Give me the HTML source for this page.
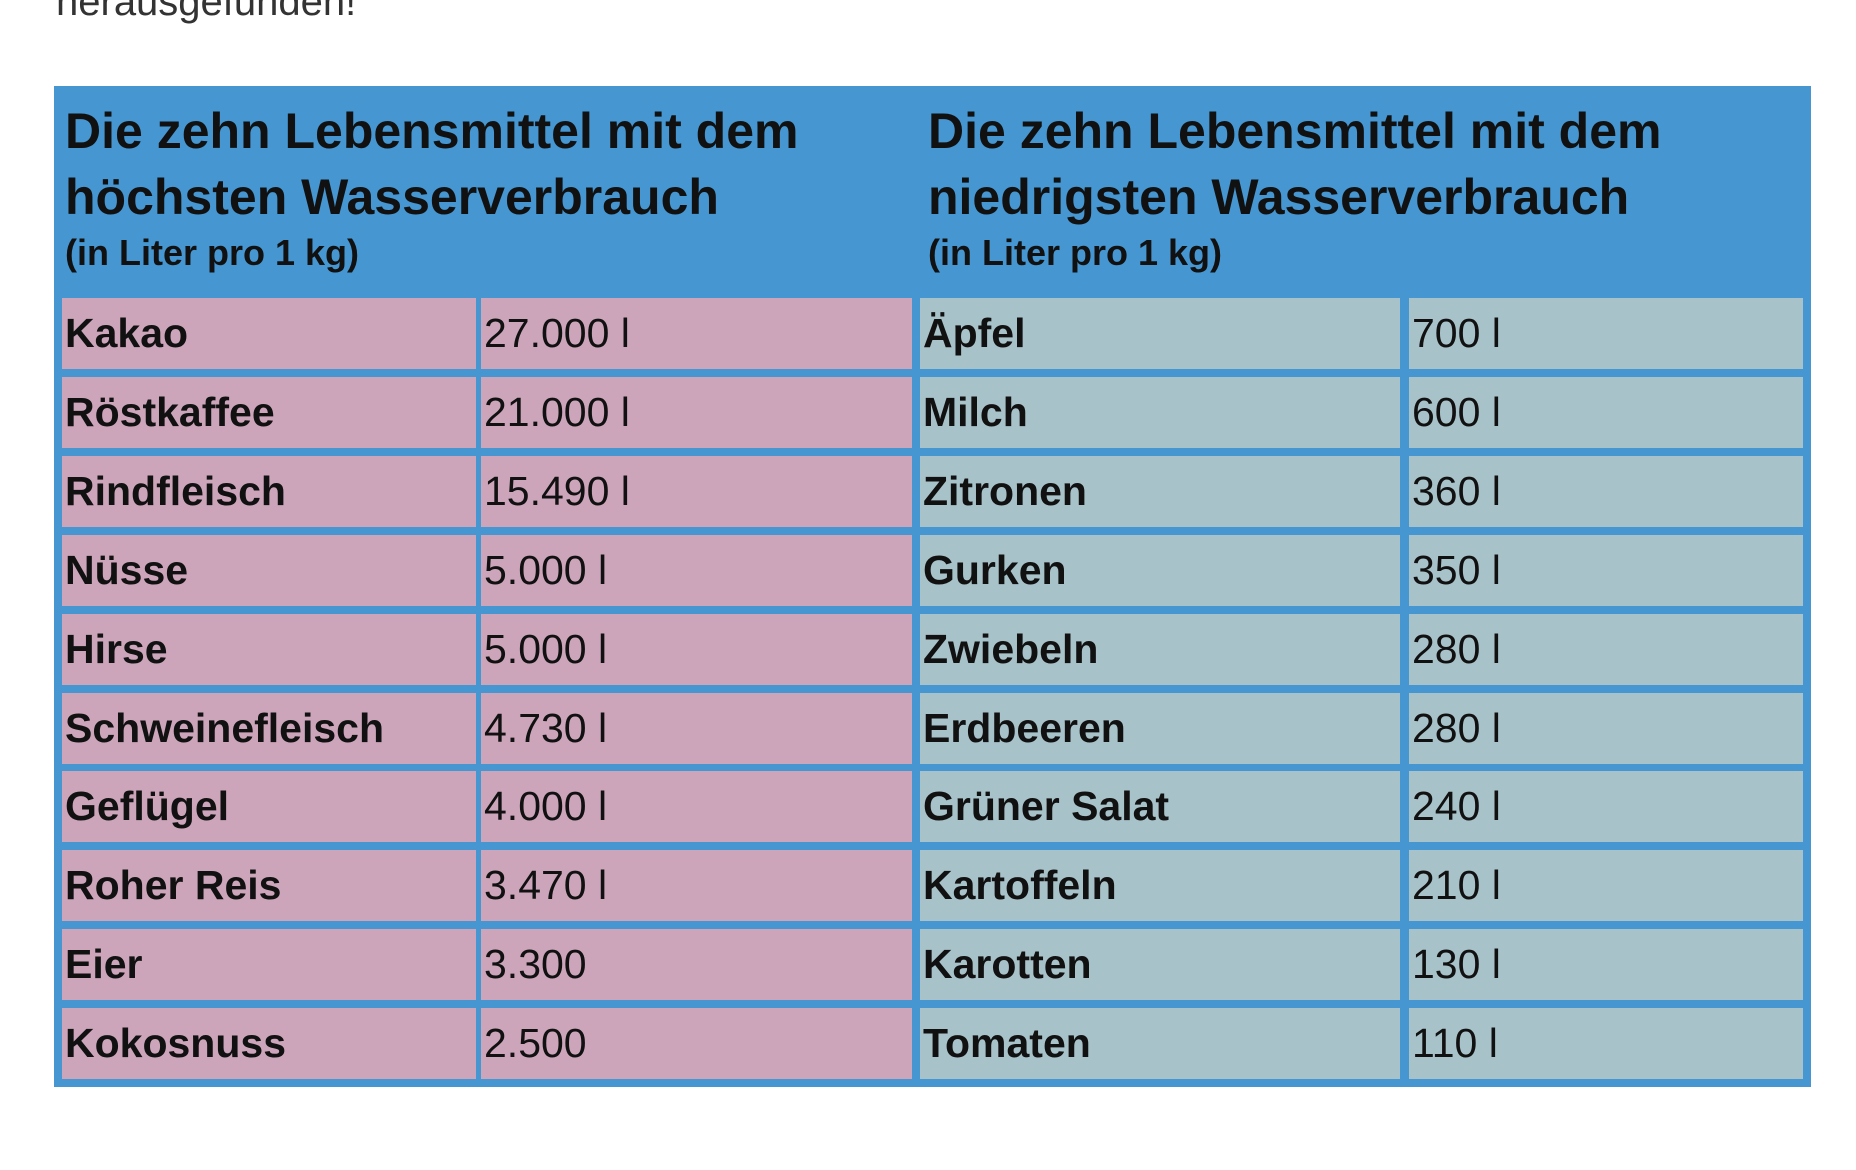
<!DOCTYPE html>
<html><head><meta charset="utf-8">
<style>
html,body{margin:0;padding:0;background:#fff;width:1856px;height:1170px;overflow:hidden;position:relative;font-family:"Liberation Sans",sans-serif;color:#111;}
.abs{position:absolute;}
#table{left:54px;top:86px;width:1757px;height:1001px;background:#4596d1;}
.h1{font-weight:bold;font-size:50px;line-height:66px;}
.h2{font-weight:bold;font-size:36px;}
.cell{position:absolute;height:71px;line-height:71px;font-size:41px;padding-left:3px;box-sizing:border-box;white-space:nowrap;overflow:hidden;}
.name{font-weight:bold;}
.pink{background:#cda5bb;}
.grey{background:#a8c2c9;}
</style></head><body>
<div class="abs" style="left:56px;top:-20px;font-size:40px;color:#333;">herausgefunden!</div>
<div id="table" class="abs"></div>
<div class="abs" style="left:65px;top:98px;">
  <div class="h1">Die zehn Lebensmittel mit dem<br>höchsten Wasserverbrauch</div>
  <div class="h2" style="margin-top:2px;">(in Liter pro 1 kg)</div>
</div>
<div class="abs" style="left:928px;top:98px;">
  <div class="h1">Die zehn Lebensmittel mit dem<br>niedrigsten Wasserverbrauch</div>
  <div class="h2" style="margin-top:2px;">(in Liter pro 1 kg)</div>
</div>
<div id="rows"></div>
<script>
const highNames=["Kakao","Röstkaffee","Rindfleisch","Nüsse","Hirse","Schweinefleisch","Geflügel","Roher Reis","Eier","Kokosnuss"];
const highValues=["27.000 l","21.000 l","15.490 l","5.000 l","5.000 l","4.730 l","4.000 l","3.470 l","3.300","2.500"];
const lowNames=["Äpfel","Milch","Zitronen","Gurken","Zwiebeln","Erdbeeren","Grüner Salat","Kartoffeln","Karotten","Tomaten"];
const lowValues=["700 l","600 l","360 l","350 l","280 l","280 l","240 l","210 l","130 l","110 l"];
const cols=[[62,414],[481,431],[920,480],[1409,394]];
const root=document.getElementById('rows');
function mk(txt,col,row,cls,name){
  const d=document.createElement('div');
  d.className='cell '+cls;
  d.style.left=cols[col][0]+'px';
  d.style.width=cols[col][1]+'px';
  d.style.top=(298+row*78.9)+'px';
  d.textContent=txt;
  
  
  root.appendChild(d);
}
for(let i=0;i<10;i++){
  mk(highNames[i],0,i,'pink name','high-food-name');
  mk(highValues[i],1,i,'pink','high-food-value');
  mk(lowNames[i],2,i,'grey name','low-food-name');
  mk(lowValues[i],3,i,'grey','low-food-value');
}
</script>
</body></html>
